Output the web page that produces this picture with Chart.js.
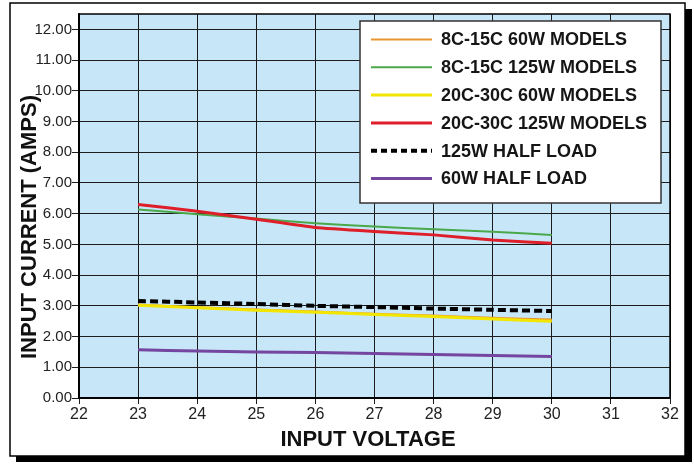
<!DOCTYPE html>
<html>
<head>
<meta charset="utf-8">
<script src="https://cdn.jsdelivr.net/npm/chart.js@4.4.1/dist/chart.umd.min.js"></script>
<style>
  html, body { margin: 0; padding: 0; background: #fff; }
  #wrap { width: 694px; height: 467px; position: relative; }
</style>
</head>
<body>
<div id="wrap"><canvas id="c" width="694" height="467"></canvas></div>
<script>
// ---- data ----
const voltages = [23, 24, 25, 26, 27, 28, 29, 30];
const seriesLabels = [
  "8C-15C 60W MODELS",
  "8C-15C 125W MODELS",
  "20C-30C 60W MODELS",
  "20C-30C 125W MODELS",
  "125W HALF LOAD",
  "60W HALF LOAD"
];
const orange60 = [3.04, 2.95, 2.88, 2.81, 2.74, 2.68, 2.61, 2.55];
const green125 = [6.14, 5.98, 5.84, 5.69, 5.58, 5.49, 5.41, 5.31];
const yellow60 = [3.02, 2.94, 2.86, 2.79, 2.72, 2.65, 2.57, 2.50];
const red125   = [6.30, 6.08, 5.82, 5.55, 5.42, 5.31, 5.14, 5.04];
const half125  = [3.16, 3.11, 3.06, 3.00, 2.96, 2.91, 2.87, 2.83];
const half60   = [1.57, 1.53, 1.50, 1.48, 1.45, 1.42, 1.38, 1.35];
const xTickValues = [22, 23, 24, 25, 26, 27, 28, 29, 30, 31, 32];
const yTickValues = [0, 1, 2, 3, 4, 5, 6, 7, 8, 9, 10, 11, 12];
const xTitle = "INPUT VOLTAGE";
const yTitle = "INPUT CURRENT (AMPS)";

const pts = arr => arr.map((v, i) => ({ x: voltages[i], y: v }));
const FONT = "'Liberation Sans', Arial, Helvetica, sans-serif";

const datasets = [
  { label: seriesLabels[0], data: pts(orange60), borderColor: '#E8962E', borderWidth: 2.2, order: 5 },
  { label: seriesLabels[1], data: pts(green125), borderColor: '#4AA84A', borderWidth: 2, order: 4 },
  { label: seriesLabels[2], data: pts(yellow60), borderColor: '#F2E600', borderWidth: 3, order: 3 },
  { label: seriesLabels[3], data: pts(red125),   borderColor: '#DE1F2A', borderWidth: 3, order: 1 },
  { label: seriesLabels[4], data: pts(half125),  borderColor: '#000000', borderWidth: 4, borderDash: [8, 4], order: 0 },
  { label: seriesLabels[5], data: pts(half60),   borderColor: '#7446A0', borderWidth: 3, order: 2 }
].map(d => Object.assign({ pointRadius: 0, fill: false, tension: 0.15, borderCapStyle: 'butt' }, d));

const decor = {
  id: 'decor',
  beforeDraw(chart) {
    const ctx = chart.ctx;
    ctx.save();
    ctx.fillStyle = '#fff';
    ctx.fillRect(0, 0, chart.width, chart.height);
    // drop shadow + frame
    ctx.fillStyle = '#000';
    ctx.fillRect(16, 9, 676, 453);
    ctx.fillStyle = '#fff';
    ctx.fillRect(10, 3, 675, 453);
    ctx.strokeStyle = '#000';
    ctx.lineWidth = 1.5;
    ctx.strokeRect(10, 3, 675, 453);
    // plot background
    const a = chart.chartArea;
    ctx.fillStyle = '#C7E7F8';
    ctx.fillRect(a.left, a.top, a.right - a.left, a.bottom - a.top);
    ctx.restore();
  },
  beforeDatasetsDraw(chart) {
    const ctx = chart.ctx, a = chart.chartArea;
    ctx.save();
    ctx.strokeStyle = '#000';
    ctx.lineWidth = 1.5;
    ctx.strokeRect(a.left, a.top, a.right - a.left, a.bottom - a.top);
    ctx.restore();
  },
  afterDraw(chart) {
    const ctx = chart.ctx;
    ctx.save();
    // axis titles
    ctx.fillStyle = '#111';
    ctx.font = `bold 22px ${FONT}`;
    ctx.textAlign = 'center';
    ctx.textBaseline = 'middle';
    ctx.fillText(xTitle, 368, 440);
    ctx.translate(30, 227);
    ctx.rotate(-Math.PI / 2);
    ctx.fillText(yTitle, 0, 0);
    ctx.restore();

    // legend box
    ctx.save();
    ctx.fillStyle = '#fff';
    ctx.fillRect(360, 21, 301, 182);
    ctx.strokeStyle = '#333';
    ctx.lineWidth = 1.5;
    ctx.strokeRect(360, 21, 301, 182);
    ctx.font = `bold 18px ${FONT}`;
    ctx.textAlign = 'left';
    ctx.textBaseline = 'middle';
    chart.data.datasets.forEach((ds, i) => {
      const y = 39.5 + i * 27.8;
      ctx.beginPath();
      ctx.strokeStyle = ds.borderColor;
      ctx.lineWidth = ds.borderDash ? 4 : Math.min(ds.borderWidth, 3);
      ctx.setLineDash(ds.borderDash ? [6, 4] : []);
      ctx.moveTo(371, y);
      ctx.lineTo(432, y);
      ctx.stroke();
      ctx.setLineDash([]);
      ctx.fillStyle = '#151515';
      ctx.fillText(ds.label, 441, y + 1);
    });
    ctx.restore();
  }
};

new Chart(document.getElementById('c'), {
  type: 'line',
  data: { datasets },
  options: {
    responsive: false,
    animation: false,
    devicePixelRatio: 1,
    layout: { padding: { left: 0, top: 14, right: 24, bottom: 19 } },
    plugins: { legend: { display: false }, tooltip: { enabled: false } },
    scales: {
      x: {
        type: 'linear', min: 22, max: 32,
        afterBuildTicks(s) { s.ticks = xTickValues.map(v => ({ value: v })); },
        ticks: { font: { family: FONT, size: 16 }, color: '#222', padding: 1 },
        grid: { color: '#1c1c1c', lineWidth: 1, tickLength: 6, tickColor: '#1c1c1c' },
        border: { display: true, color: '#000', width: 1.5 },
        afterFit(s) { s.height = 50; }
      },
      y: {
        type: 'linear', min: 0, max: 12.5,
        afterBuildTicks(s) { s.ticks = yTickValues.map(v => ({ value: v })); },
        ticks: { font: { family: FONT, size: 15 }, color: '#222', padding: 0,
                 callback: v => Number(v).toFixed(2) },
        grid: { color: '#1c1c1c', lineWidth: 1, tickLength: 7, tickColor: '#1c1c1c' },
        border: { display: true, color: '#000', width: 1.5 },
        afterFit(s) { s.width = 79; }
      }
    }
  },
  plugins: [decor]
});
</script>
</body>
</html>
